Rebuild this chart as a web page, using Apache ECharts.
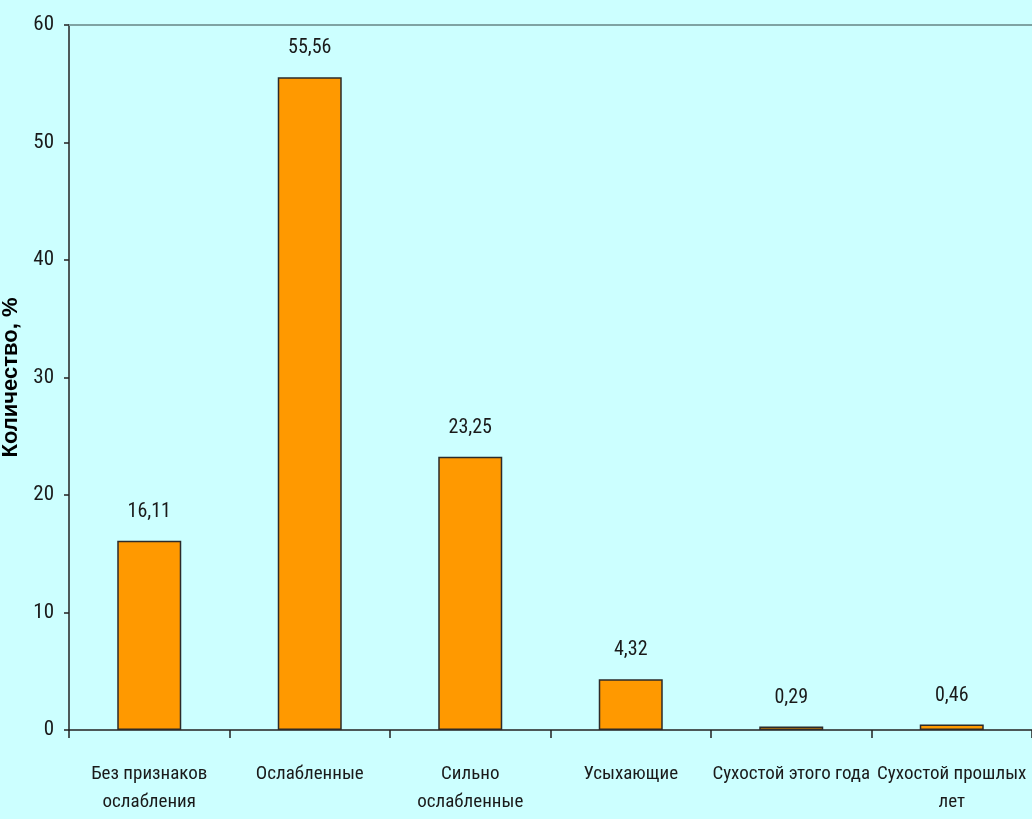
<!DOCTYPE html>
<html>
<head>
<meta charset="utf-8">
<title>Количество, %</title>
<script src="https://cdn.jsdelivr.net/npm/echarts@6/dist/echarts.min.js"></script>
<style>
  html, body { margin: 0; padding: 0; background: #ccffff; }
  #container { width: 1032px; height: 819px; }
</style>
</head>
<body>
<div id="container"></div>
<script>
// data
var categories = [
    'Без признаков\nослабления',
    'Ослабленные',
    'Сильно\nослабленные',
    'Усыхающие',
    'Сухостой этого года',
    'Сухостой прошлых\nлет'
];
var values = [16.11, 55.56, 23.25, 4.32, 0.29, 0.46];

var yMin = 0;
var yMax = 60;
var yStep = 10;

// narrow look, like Arial Narrow
var narrowFont = 'Roboto, "DejaVu Sans Condensed", sans-serif';
var narrowStretch = 'condensed';

var dom = document.getElementById('container');
var myChart = echarts.init(dom, null, { renderer: 'canvas' });

var option = {
    backgroundColor: '#ccffff',
    animation: false,
    grid: {
        left: 69,
        right: 0,
        top: 25,
        bottom: 89,
        outerBoundsMode: 'none',
        containLabel: false
    },
    xAxis: [
        {
            type: 'category',
            data: categories,
            boundaryGap: true,
            axisLine: { lineStyle: { color: '#222', width: 1.5 } },
            axisTick: { show: true, length: 8, lineStyle: { color: '#222', width: 1.5 } },
            axisLabel: {
                interval: 0,
                margin: 30,
                color: '#1a1a1a',
                fontFamily: narrowFont,
                fontWeight: narrowStretch,
                fontSize: 19,
                lineHeight: 28
            }
        },
        {
            // top border of the plot area
            type: 'category',
            position: 'top',
            data: categories,
            axisLine: { lineStyle: { color: '#7fa3a3', width: 2 } },
            axisTick: { show: false },
            axisLabel: { show: false }
        }
    ],
    yAxis: {
        type: 'value',
        min: yMin,
        max: yMax,
        interval: yStep,
        name: 'Количество, %',
        nameLocation: 'middle',
        nameGap: 43,
        nameTextStyle: {
            color: '#000',
            fontFamily: '"Liberation Sans", Arial, sans-serif',
            fontWeight: 'bold',
            fontSize: 22
        },
        axisLine: { show: true, lineStyle: { color: '#222', width: 1.5 } },
        axisTick: { show: true, length: 5, lineStyle: { color: '#222', width: 1.5 } },
        splitLine: { show: false },
        axisLabel: {
            margin: 15,
            color: '#1a1a1a',
            fontFamily: narrowFont,
            fontWeight: narrowStretch,
            fontSize: 21
        }
    },
    series: [
        {
            type: 'bar',
            data: values,
            barWidth: 64,
            itemStyle: {
                color: '#ff9900',
                borderColor: '#2b2b2b',
                borderWidth: 1.5
            },
            label: {
                show: true,
                position: 'top',
                distance: 19,
                color: '#1a1a1a',
                fontFamily: narrowFont,
                fontWeight: narrowStretch,
                fontSize: 20,
                formatter: function (p) {
                    return p.value.toFixed(2).replace('.', ',');
                }
            }
        }
    ]
};

myChart.setOption(option);
window.addEventListener('resize', myChart.resize);
</script>
</body>
</html>
